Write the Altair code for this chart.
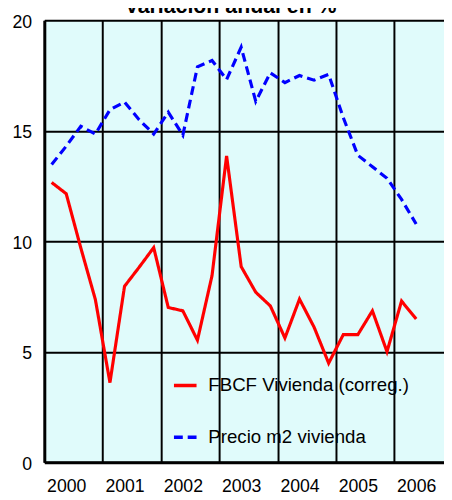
import altair as alt
import pandas as pd

# ---- data ----
years = ["2000", "2001", "2002", "2003", "2004", "2005", "2006"]
periods = [
    "2000T1", "2000T2", "2000T3", "2000T4",
    "2001T1", "2001T2", "2001T3", "2001T4",
    "2002T1", "2002T2", "2002T3", "2002T4",
    "2003T1", "2003T2", "2003T3", "2003T4",
    "2004T1", "2004T2", "2004T3", "2004T4",
    "2005T1", "2005T2", "2005T3", "2005T4",
    "2006T1", "2006T2",
]
fbcf_vivienda = [12.66, 12.15, 9.7, 7.36, 3.6, 7.96, 8.82, 9.71, 7.0, 6.85, 5.52, 8.44, 13.86,
                 8.85, 7.69, 7.07, 5.62, 7.38, 6.11, 4.48, 5.77, 5.77, 6.85, 5.0, 7.29, 6.48]
precio_m2 = [13.47, 14.3, 15.2, 14.85, 15.95, 16.3, 15.5, 14.85, 15.84, 14.8, 17.89, 18.18, 17.32,
             18.78, 16.33, 17.62, 17.18, 17.5, 17.29, 17.55, 15.6, 13.89, 13.37, 12.85, 11.89, 10.78]
series_names = ["FBCF Vivienda (correg.)", "Precio m2 vivienda"]
title_text = "Variación anual en %"

FONT = "Liberation Sans"

rows = []
for i, p in enumerate(periods):
    rows.append({"periodo": p, "idx": i + 0.5, "serie": series_names[0], "valor": fbcf_vivienda[i]})
    rows.append({"periodo": p, "idx": i + 0.5, "serie": series_names[1], "valor": precio_m2[i]})
df = pd.DataFrame(rows)

year_ticks = [4 * k for k in range(len(years))]
label_expr = "[" + ",".join("'" + y + "'" for y in years) + "][datum.value / 4]"

x = alt.X(
    "idx:Q",
    scale=alt.Scale(domain=[0, 27.41], nice=False, zero=False),
    axis=alt.Axis(
        values=year_ticks, labelExpr=label_expr, labelOffset=22.3,
        grid=True, gridColor="#000000", gridWidth=2, gridOpacity=1,
        ticks=False, tickSize=0, labelPadding=16, labelBaseline="top",
        labelFontSize=18, labelFont=FONT, labelColor="#000000",
        labelFlush=False, labelOverlap=False,
        domainColor="#000000", domainWidth=3, title=None,
    ),
)
y = alt.Y(
    "valor:Q",
    scale=alt.Scale(domain=[0, 20], nice=False),
    axis=alt.Axis(
        values=[0, 5, 10, 15, 20],
        grid=True, gridColor="#000000", gridWidth=2, gridOpacity=1,
        ticks=False, tickSize=0, labelPadding=13, labelOffset=2,
        labelFontSize=18, labelFont=FONT, labelColor="#000000",
        labelFlush=False, labelOverlap=False,
        domainColor="#000000", domainWidth=3, title=None,
    ),
)

legend = alt.Legend(
    title=None, orient="none", legendX=130, legendY=358.5,
    direction="vertical", symbolType="stroke", symbolSize=529,
    symbolStrokeWidth=3.5, labelFontSize=19, labelFont=FONT,
    labelColor="#000000", labelOffset=10, rowPadding=28.7, padding=0,
    labelLimit=400,
)

lines = alt.Chart(df).mark_line(strokeWidth=3.2, strokeCap="butt").encode(
    x=x,
    y=y,
    color=alt.Color(
        "serie:N",
        scale=alt.Scale(domain=series_names, range=["#FF0000", "#0000FF"]),
        legend=legend,
    ),
    strokeDash=alt.StrokeDash(
        "serie:N",
        scale=alt.Scale(domain=series_names, range=[[1, 0], [9, 5]]),
        legend=legend,
    ),
    order=alt.Order("idx:Q"),
)

title = alt.Chart(pd.DataFrame({"t": [title_text]})).mark_text(
    font=FONT, fontSize=21.7, fontWeight="bold", color="#000000",
    align="center", baseline="alphabetic",
).encode(text="t:N", x=alt.value(189.7), y=alt.value(-7.7))

chart = (
    alt.layer(lines, title)
    .properties(
        width=407, height=450,
        padding={"left": 37, "top": 8, "right": 0, "bottom": 32},
        autosize=alt.AutoSizeParams(type="none"),
        background="#FFFFFF",
    )
    .configure_view(fill="#E0FBFB", strokeWidth=0)
)

chart.save("out.html", embed_options={"renderer": "svg", "actions": False})
